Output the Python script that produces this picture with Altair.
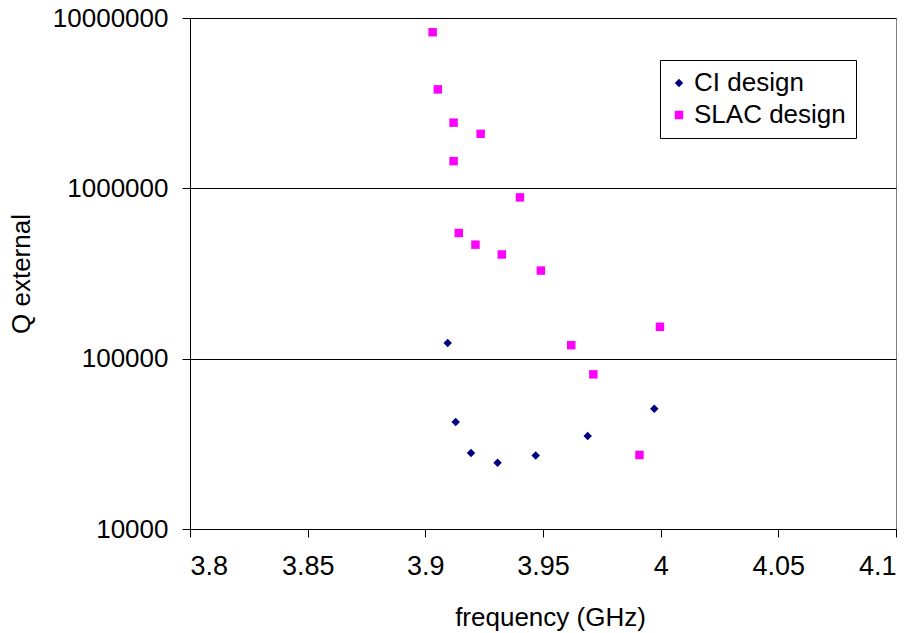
import altair as alt
import pandas as pd

ci_freq = [3.9095, 3.9129, 3.9194, 3.9307, 3.9469, 3.9690, 3.9973]
ci_q = [123500, 42500, 27900, 24450, 27000, 35200, 50800]

slac_freq = [3.9031, 3.9053, 3.9120, 3.9235, 3.9120, 3.9402, 3.9142, 3.9213,
             3.9325, 3.9491, 3.9620, 3.9997, 3.9714, 3.9910]
slac_q = [8250000, 3810000, 2430000, 2090000, 1445000, 885000, 547000, 467000,
          409000, 329000, 120000, 153800, 80900, 27200]

series_names = ["CI design", "SLAC design"]
series_colors = ["#000080", "#FF00FF"]
series_shapes = ["diamond", "square"]

x_ticks = [3.8, 3.85, 3.9, 3.95, 4.0, 4.05, 4.1]
y_ticks = [10000, 100000, 1000000, 10000000]

df = pd.concat([
    pd.DataFrame({"freq": ci_freq, "q": ci_q, "series": series_names[0]}),
    pd.DataFrame({"freq": slac_freq, "q": slac_q, "series": series_names[1]}),
])

FONT = "Liberation Sans"

legend = alt.Legend(
    title=None, orient="none", legendX=470, legendY=42,
    strokeColor="black", fillColor="white", padding=10,
    labelFont=FONT, labelFontSize=26, labelColor="black",
    symbolSize=72, symbolOffset=-4, labelOffset=2, rowPadding=6,
    symbolStrokeWidth=0,
)

chart = alt.Chart(df).mark_point(filled=True, opacity=1, size=72).encode(
    x=alt.X("freq:Q", title="frequency (GHz)",
            scale=alt.Scale(domain=[3.8, 4.1], nice=False, zero=False),
            axis=alt.Axis(values=x_ticks, format="~g", grid=False,
                          labelFont=FONT, labelFontSize=27, labelColor="black",
                          labelPadding=16, tickSize=8, tickColor="black",
                          domainColor="black", titleFont=FONT, titleFontSize=26,
                          titleFontWeight="normal", titleColor="black",
                          titleX=360, titleAlign="center",
                          titleY=96, titleBaseline="alphabetic")),
    y=alt.Y("q:Q", title="Q external",
            scale=alt.Scale(type="log", domain=[10000, 10000000], nice=False),
            axis=alt.Axis(values=y_ticks, format="d", grid=True, gridColor="black",
                          gridOpacity=1, gridWidth=1,
                          labelFont=FONT, labelFontSize=26, labelColor="black",
                          labelPadding=14, tickSize=8, tickColor="black",
                          domainColor="black", titleFont=FONT, titleFontSize=26,
                          titleFontWeight="normal", titleColor="black",
                          titleX=-161, titleBaseline="alphabetic")),
    color=alt.Color("series:N", scale=alt.Scale(domain=series_names, range=series_colors),
                    legend=legend),
    shape=alt.Shape("series:N", scale=alt.Scale(domain=series_names, range=series_shapes),
                    legend=legend),
).properties(
    width=706, height=511,
    autosize=alt.AutoSizeParams(type="none"),
    padding={"left": 190, "top": 18, "right": 18, "bottom": 104},
    background="white",
).configure_view(stroke="#808080", strokeWidth=1)

chart.save("out.html", embed_options={"renderer": "svg", "actions": False})
